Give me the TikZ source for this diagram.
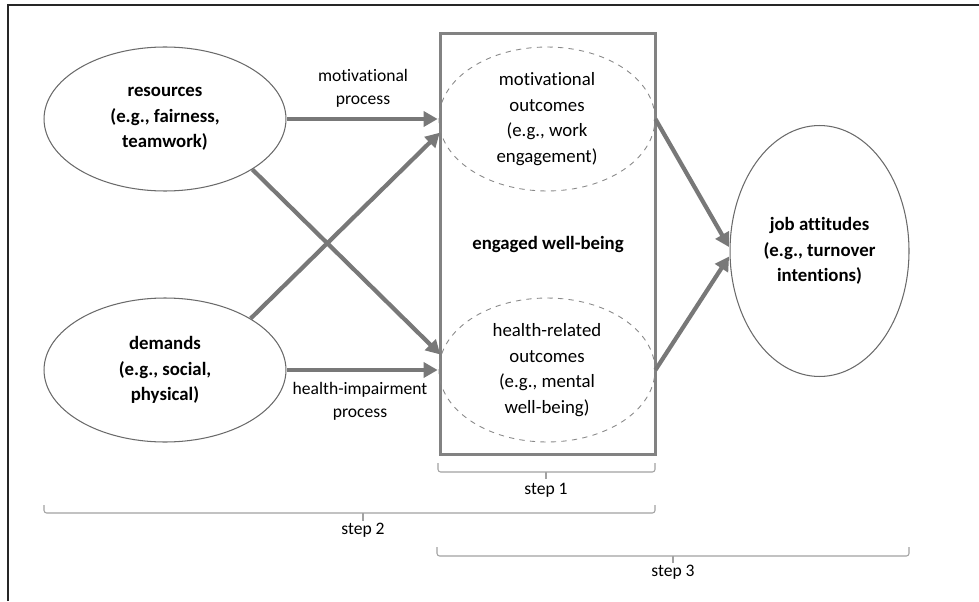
\documentclass[tikz,border=0pt]{standalone}
\usepackage{fontspec}
\setmainfont[Ligatures=NoCommon]{Carlito}
\usetikzlibrary{shapes.geometric,arrows.meta}
\definecolor{arrowgray}{HTML}{787878}
\definecolor{boxgray}{HTML}{828282}
\definecolor{rimgray}{HTML}{6A6A6A}
\definecolor{stepgray}{HTML}{A2A2A2}
\begin{document}
\begin{tikzpicture}[x=0.02cm, y=-0.02cm,
	factor/.style={draw=rimgray, line width=0.6pt, ellipse, inner sep=0pt, align=center, font=\fontsize{10.7}{14.5}\selectfont\bfseries},
	outcome/.style={draw=rimgray!80, dashed, line width=0.5pt, ellipse, inner sep=0pt, align=center, minimum width=4.32cm, minimum height=2.88cm, font=\fontsize{10.7}{14.5}\selectfont},
	wbbox/.style={draw=boxgray, line width=1.7pt, rectangle, minimum width=4.32cm, minimum height=8.42cm, font=\fontsize{10.7}{14.5}\selectfont\bfseries},
	process/.style={align=center, inner sep=0pt, font=\fontsize{10}{13.2}\selectfont},
	steptext/.style={inner sep=0pt, font=\fontsize{10}{12}\selectfont},
	stepline/.style={draw=stepgray, line width=0.6pt, rounded corners=1.5pt},
	arrow/.style={draw=arrowgray, line width=2.4pt, -{Triangle[length=8pt,width=8.5pt]}, shorten >=0.5pt}]
\useasboundingbox (0,0) rectangle (979,601);
% frame
\draw [line width=0.6pt, black!85] (8,601)--(8,5)--(979,5);
% factors
	\node [factor, minimum width=4.84cm, minimum height=2.88cm] (res) at (165,119){resources\\(e.g., fairness,\\teamwork)};
	\node [factor, minimum width=4.84cm, minimum height=2.88cm] (dem) at (165,370){demands\\(e.g., social,\\physical)};
	\node [wbbox] (wb) at (548,244){engaged well-being};
	\node [outcome] (motout) at (547,119){motivational\\outcomes\\(e.g., work\\engagement)};
	\node [outcome] (healthout) at (547,370){health-related\\outcomes\\(e.g., mental\\well-being)};
	\node [factor, minimum width=3.58cm, minimum height=5.02cm] (job) at (819.5,251){job attitudes\\(e.g., turnover\\intentions)};
% process labels
	\node [process] (mp) at (363,88.5){motivational\\process};
	\node [process] (hp) at (360,401){health-impairment\\process};
\foreach \from/\to in {res/motout, dem.31/motout.187, res.330/healthout.172, dem/healthout, motout.east/job.178, healthout.east/job.183}
\draw [arrow] (\from)--(\to);
% steps
\draw [stepline] (438,463)--(438,472)--(655,472)--(655,463);
\draw [stepline] (546,472)--(546,479);
	\node [steptext] (s1) at (546,490){step 1};
\draw [stepline] (44,505)--(44,513)--(655,513)--(655,505);
\draw [stepline] (363,513)--(363,521);
	\node [steptext] (s2) at (363,530){step 2};
\draw [stepline] (437,547)--(437,556)--(909,556)--(909,547);
\draw [stepline] (673,556)--(673,563);
	\node [steptext] (s3) at (673,572){step 3};
\end{tikzpicture}
\end{document}
